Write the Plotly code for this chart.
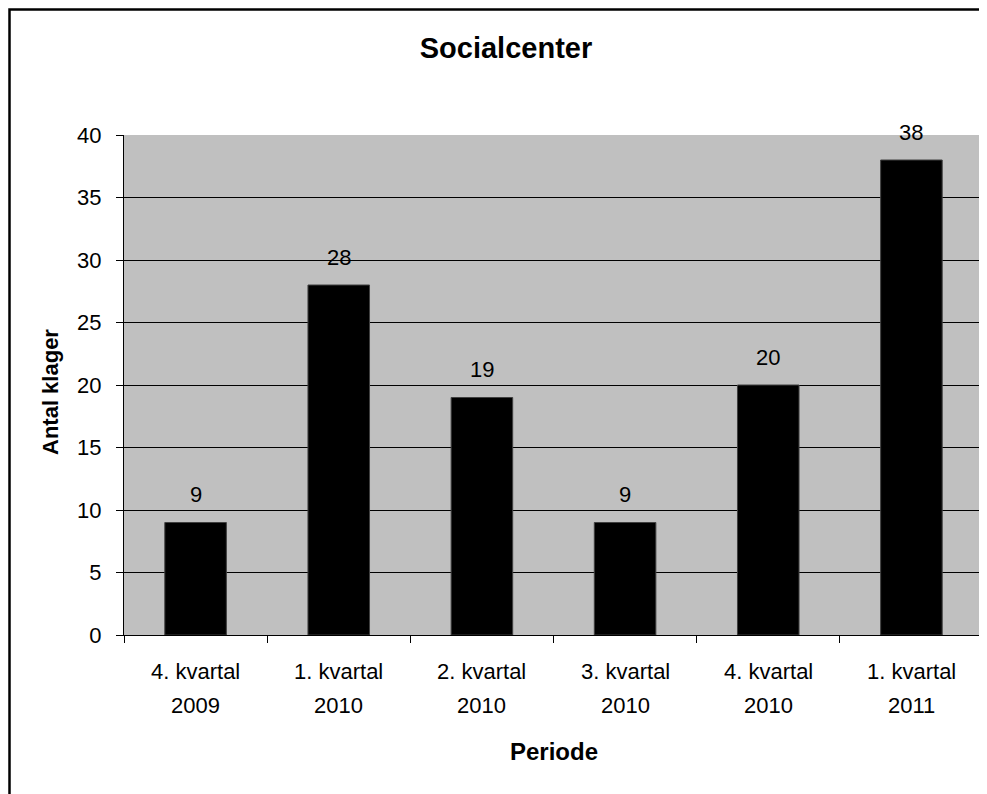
import plotly.graph_objects as go

quarters = ["4. kvartal", "1. kvartal", "2. kvartal", "3. kvartal", "4. kvartal", "1. kvartal"]
years = ["2009", "2010", "2010", "2010", "2010", "2011"]
values = [9, 28, 19, 9, 20, 38]
y_ticks = [0, 5, 10, 15, 20, 25, 30, 35, 40]

categories = [f"{q} {y}" for q, y in zip(quarters, years)]

FONT = "Liberation Sans, Arial, sans-serif"

# page has an 8px body margin; figure sized so it fills the 987x794 window
W, H = 979, 786
L, R, T, B = 116, 4, 127, 159
PW, PH = W - L - R, H - T - B

fig = go.Figure()
fig.add_trace(go.Bar(
    x=categories, y=values,
    width=0.43,
    marker=dict(color="#000000", line=dict(color="#404040", width=1)),
    hoverinfo="skip",
))

annotations = []
for c, v in zip(categories, values):
    annotations.append(dict(x=c, y=v, xref="x", yref="y", text=str(v), showarrow=False,
                            yanchor="middle", yshift=28,
                            font=dict(family=FONT, size=22, color="#000")))
for c, q, yr in zip(categories, quarters, years):
    annotations.append(dict(x=c, y=0, xref="x", yref="y", text=q, showarrow=False,
                            yanchor="middle", yshift=-36,
                            font=dict(family=FONT, size=22, color="#000")))
    annotations.append(dict(x=c, y=0, xref="x", yref="y", text=yr, showarrow=False,
                            yanchor="middle", yshift=-70,
                            font=dict(family=FONT, size=22, color="#000")))
annotations.append(dict(x=0.5, y=-(751 - 635) / PH, xref="paper", yref="paper", text="<b>Periode</b>",
                        showarrow=False, xanchor="center", yanchor="middle",
                        font=dict(family=FONT, size=24, color="#000")))
annotations.append(dict(x=(50 - 124) / PW, y=(635 - 392) / PH, xref="paper", yref="paper",
                        text="<b>Antal klager</b>",
                        showarrow=False, xanchor="center", yanchor="middle", textangle=-90,
                        font=dict(family=FONT, size=22, color="#000")))

fig.update_layout(
    width=W, height=H,
    margin=dict(l=L, r=R, t=T, b=B),
    paper_bgcolor="#ffffff",
    plot_bgcolor="#C0C0C0",
    showlegend=False,
    title=dict(text="<b>Socialcenter</b>", x=(506 - 8) / W, y=1 - (48 - 8) / H,
               xref="container", yref="container", xanchor="center", yanchor="middle",
               font=dict(family=FONT, size=29, color="#000")),
    annotations=annotations,
    shapes=[dict(type="rect", xref="paper", yref="paper",
                 x0=(1.5 - L) / PW, x1=1.1, y0=-0.6, y1=1 + (T - 1.5) / PH,
                 line=dict(color="#000", width=2.5), fillcolor="rgba(0,0,0,0)", layer="above")],
)

fig.update_xaxes(
    type="category", showticklabels=False, showgrid=False,
    showline=True, linecolor="#000", linewidth=1,
    ticks="outside", ticklen=7, tickcolor="#000", tickson="boundaries",
)
fig.update_yaxes(
    range=[0, 40], tickvals=y_ticks, showgrid=True, gridcolor="#000", gridwidth=1,
    showline=True, linecolor="#000", linewidth=1, zeroline=False,
    ticks="outside", ticklen=7, tickcolor="#000", ticklabelstandoff=10,
    tickfont=dict(family=FONT, size=22, color="#000"),
)

fig.write_html("out.html")
